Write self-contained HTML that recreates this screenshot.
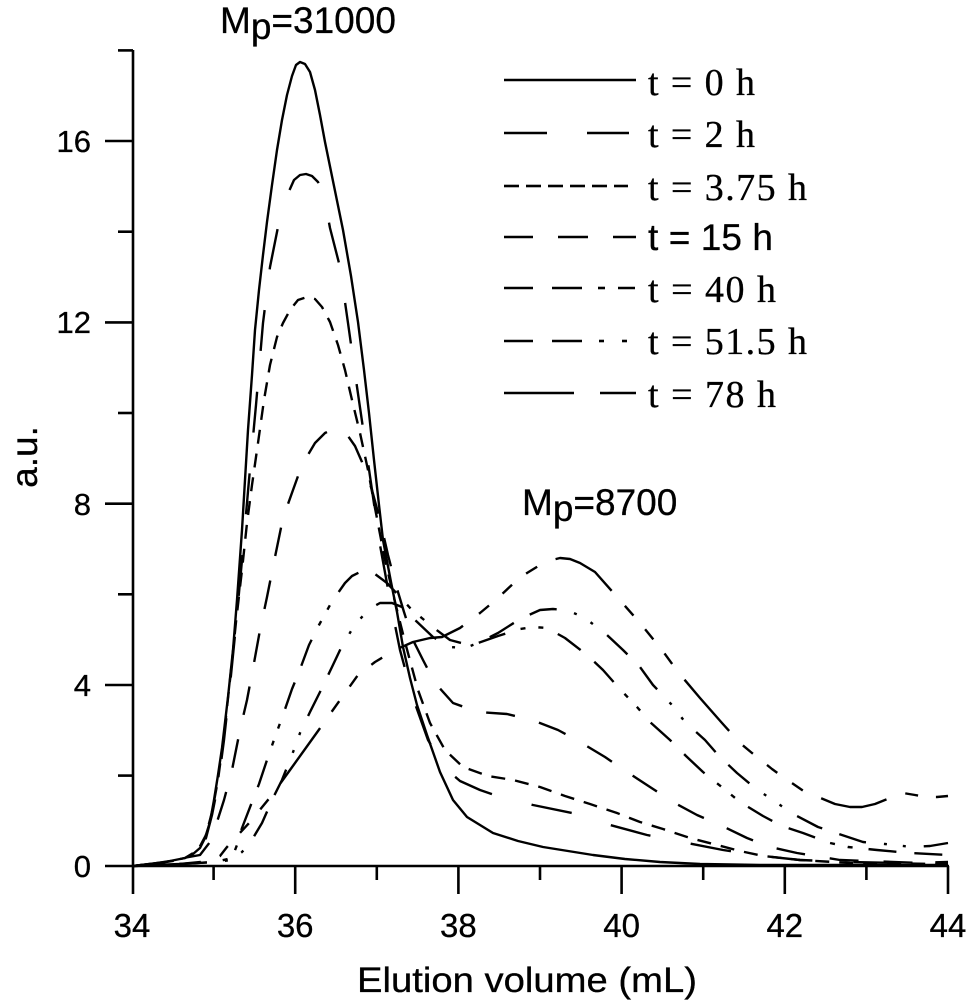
<!DOCTYPE html>
<html><head><meta charset="utf-8"><style>
html,body{margin:0;padding:0;background:#fff;}
svg{display:block;}
</style></head><body>
<svg width="967" height="1000" viewBox="0 0 967 1000" xmlns="http://www.w3.org/2000/svg">
<rect width="967" height="1000" fill="#fff"/>
<g stroke="#000" stroke-width="2.6" fill="none">
<line x1="133" y1="50" x2="133" y2="894"/>
<line x1="105" y1="866" x2="949" y2="866"/>
<line x1="105" y1="685" x2="133" y2="685"/>
<line x1="105" y1="503.7" x2="133" y2="503.7"/>
<line x1="105" y1="322.4" x2="133" y2="322.4"/>
<line x1="105" y1="141" x2="133" y2="141"/>
<line x1="118" y1="775.6" x2="133" y2="775.6"/>
<line x1="118" y1="594.3" x2="133" y2="594.3"/>
<line x1="118" y1="413" x2="133" y2="413"/>
<line x1="118" y1="231.7" x2="133" y2="231.7"/>
<line x1="118" y1="50.4" x2="133" y2="50.4"/>
<line x1="295.2" y1="866" x2="295.2" y2="894"/>
<line x1="458.4" y1="866" x2="458.4" y2="894"/>
<line x1="621.6" y1="866" x2="621.6" y2="894"/>
<line x1="784.8" y1="866" x2="784.8" y2="894"/>
<line x1="948" y1="866" x2="948" y2="894"/>
<line x1="213.6" y1="866" x2="213.6" y2="880"/>
<line x1="376.8" y1="866" x2="376.8" y2="880"/>
<line x1="540" y1="866" x2="540" y2="880"/>
<line x1="703.2" y1="866" x2="703.2" y2="880"/>
<line x1="866.4" y1="866" x2="866.4" y2="880"/>
</g>
<g font-family="'Liberation Sans', Arial, sans-serif" font-size="31" fill="#000" stroke="#000" stroke-width="0.3" text-anchor="end">
<text x="91" y="877">0</text>
<text x="91" y="696">4</text>
<text x="91" y="515">8</text>
<text x="91" y="333">12</text>
<text x="91" y="152">16</text>
</g>
<g font-family="'Liberation Sans', Arial, sans-serif" font-size="33" fill="#000" stroke="#000" stroke-width="0.3" text-anchor="middle">
<text x="132" y="937">34</text>
<text x="295.2" y="937">36</text>
<text x="458.4" y="937">38</text>
<text x="621.6" y="937">40</text>
<text x="784.8" y="937">42</text>
<text x="948" y="937">44</text>
</g>
<text x="357" y="992" font-family="'Liberation Sans', Arial, sans-serif" font-size="35" stroke="#000" stroke-width="0.3" textLength="340" lengthAdjust="spacingAndGlyphs">Elution volume (mL)</text>
<text transform="translate(37,457) rotate(-90)" font-family="'Liberation Sans', Arial, sans-serif" font-size="37" stroke="#000" stroke-width="0.3" text-anchor="middle">a.u.</text>
<text x="220" y="33" font-family="'Liberation Sans', Arial, sans-serif" font-size="37" stroke="#000" stroke-width="0.3">M<tspan dy="6">p</tspan><tspan dy="-6">=31000</tspan></text>
<text x="522" y="515" font-family="'Liberation Sans', Arial, sans-serif" font-size="37" stroke="#000" stroke-width="0.3">M<tspan dy="6">p</tspan><tspan dy="-6">=8700</tspan></text>

<g fill="none" stroke="#000" stroke-width="2.4" stroke-linejoin="round">
<polyline points="133,866 150,864 170,861 185,858 193,854 200,848 205,838 210,822 214,800 218,775 222,748 228,697 233,650 237,600 242,530 248,430 252,375 255,330 259,290 263,255 267,222 272,185 277,150 282,120 287,95 292,76 296,65 300,62 305,64 310,72 315,90 320,115 325,142 334,186 343,230 351,276 358,322 364,370 369,413 374,460 379,505 383,540 391,582 397,612 403,647 410,678 417,705 427,735 440,772 453,800 467,817 493,833 518,841 543,847 568,851 593,855 625,859 660,862 700,864 760,865 850,865 948,865"/>
<polyline stroke-dasharray="41 41" points="133,866 160,863 185,859 198,852 206,838 212,815 218,785 224,740 230,685 236,625 242,560 249,480 256,405 263,323 270,267 278,227 286,198 294,180 300,175 306,174 312,176 318,182 324,196 330,228 340,267 348,323 356,380 364,435 372,490 380,545 390,600 400,650 413,698 428,740 445,768 460,781 480,790 500,797 533,805 572,813 610,825 647,835 687,843 723,850 763,856 800,860 850,862 900,863 948,862"/>
<polyline stroke-dasharray="14 10" points="133,866 160,863 185,858 198,850 206,835 212,812 218,780 224,735 230,680 236,622 242,570 247,523 252,485 258,443 264,400 270,365 277,337 283,323 290,310 298,300 307,297 315,299 322,307 330,322 338,345 345,370 352,400 360,433 368,470 375,508 385,560 395,602 405,642 418,690 430,723 445,750 463,767 488,776 513,780 540,787 565,796 590,804 617,813 640,822 663,829 690,838 717,845 740,851 763,856 800,860 850,863 948,864"/>
<polyline stroke-dasharray="29 25" points="133,866 165,862 183,858 200,855 210,842 217,822 224,800 232,770 240,730 247,700 254,663 260,630 267,597 275,557 283,518 293,490 302,465 315,443 325,433 333,429 341,430 348,436 355,446 362,462 372,490 380,520 388,555 395,582 404,612 413,640 423,660 435,683 453,703 478,712 507,714 532,720 558,730 580,742 605,757 627,772 650,787 673,802 697,815 720,825 747,838 770,847 797,853 840,860 948,864"/>
<polyline stroke-dasharray="28 18 28 16 5 13 5 16" points="133,866 180,864 215,862 232,858 237,845 242,828 252,802 259,784 268,757 275,737 283,715 292,689 299,672 309,645 319,625 330,605 338,593 345,583 352,576 360,572 367,571 375,574 387,583 400,597 412,610 423,619 434,628 450,640 465,644 478,643 498,636 520,629 533,627 547,628 565,638 587,655 603,670 618,687 637,707 650,722 670,740 686,756 703,772 723,788 740,802 763,816 782,826 803,833 830,843 848,847 877,850 910,853 948,855"/>
<polyline stroke-dasharray="28 18 28 18 3 16 3 18" points="133,866 180,864 215,862 232,860 242,852 250,843 262,823 273,798 282,780 292,755 300,733 310,712 320,692 332,667 341,648 354,626 369,609 380,603 392,603 402,607 413,618 433,637 450,647 465,648 478,643 498,633 520,619 540,610 553,609 567,610 585,618 607,635 623,650 640,667 653,685 672,705 685,722 705,740 719,756 737,773 755,788 777,803 795,815 818,827 839,834 863,842 885,844 912,847 930,846 948,843"/>
<polyline stroke-dasharray="68 20 13 18 13 18 13 20" points="133,866 180,864 210,861 220,856 227,847 250,822 272,795 290,770 318,731 340,700 358,675 375,662 395,650 413,642 430,638 442,637 460,628 480,613 498,598 517,580 527,573 540,565 552,560 560,558 570,559 580,563 595,572 618,598 640,623 662,650 678,672 700,698 722,723 740,743 752,753 772,769 783,777 805,792 818,797 835,804 850,807 862,807 875,804 890,798 903,793 915,795 925,797 937,797 948,796"/>
</g>

<g stroke="#000" stroke-width="2.6" fill="none">
<line x1="504" y1="80" x2="636" y2="80"/>
<line x1="504" y1="133" x2="547" y2="133"/><line x1="587" y1="133" x2="629" y2="133"/>
<line x1="504" y1="186" x2="519" y2="186"/><line x1="526" y1="186" x2="541" y2="186"/><line x1="548" y1="186" x2="563" y2="186"/><line x1="570" y1="186" x2="585" y2="186"/><line x1="592" y1="186" x2="607" y2="186"/><line x1="614" y1="186" x2="628" y2="186"/>
<line x1="504" y1="237" x2="533" y2="237"/><line x1="558" y1="237" x2="588" y2="237"/><line x1="613" y1="237" x2="636" y2="237"/>
<line x1="504" y1="288" x2="533" y2="288"/><line x1="552" y1="288" x2="582" y2="288"/><line x1="598" y1="288" x2="605" y2="288"/><line x1="618" y1="288" x2="635" y2="288"/>
<line x1="504" y1="341" x2="533" y2="341"/><line x1="552" y1="341" x2="582" y2="341"/><line x1="599" y1="341" x2="604" y2="341"/><line x1="622" y1="341" x2="627" y2="341"/>
<line x1="504" y1="393" x2="574" y2="393"/><line x1="600" y1="393" x2="636" y2="393"/>
</g>
<g font-family="'Liberation Serif', 'Times New Roman', serif" font-size="38" fill="#000" stroke="#000" stroke-width="0.3">
<text x="648" y="95" textLength="107" lengthAdjust="spacing">t = 0 h</text>
<text x="648" y="147" textLength="107" lengthAdjust="spacing">t = 2 h</text>
<text x="648" y="200" textLength="159" lengthAdjust="spacing">t = 3.75 h</text>
<text x="648" y="250" font-family="'Liberation Sans', Arial, sans-serif" font-size="37" textLength="125" lengthAdjust="spacing">t = 15 h</text>
<text x="648" y="302" textLength="128" lengthAdjust="spacing">t = 40 h</text>
<text x="648" y="354" textLength="159" lengthAdjust="spacing">t = 51.5 h</text>
<text x="648" y="407" textLength="128" lengthAdjust="spacing">t = 78 h</text>
</g>
</svg>
</body></html>
